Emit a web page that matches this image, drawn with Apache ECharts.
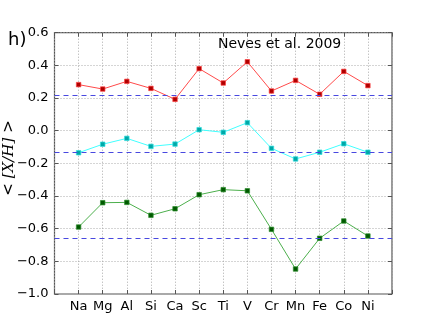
<!DOCTYPE html>
<html><head><meta charset="utf-8">
<script src="https://cdn.jsdelivr.net/npm/echarts@6/dist/echarts.min.js"></script>
<style>html,body{margin:0;padding:0;background:#fff}#c{width:436px;height:327px}</style>
</head><body><div id="c"></div>
<script>
const elements = ['Na','Mg','Al','Si','Ca','Sc','Ti','V','Cr','Mn','Fe','Co','Ni'];
const redVals   = [0.282,0.255,0.302,0.259,0.192,0.380,0.292,0.422,0.243,0.308,0.223,0.363,0.276];
const cyanVals  = [-0.135,-0.083,-0.047,-0.096,-0.082,0.006,-0.010,0.049,-0.108,-0.173,-0.132,-0.080,-0.132];
const greenVals = [-0.590,-0.441,-0.439,-0.518,-0.478,-0.392,-0.361,-0.368,-0.604,-0.847,-0.659,-0.553,-0.645];
const meanVals = [0.223, -0.132, -0.657];

const pts = v => v.map((y,i)=>[i,y]);
const FONT = 'DejaVu Sans';
function mk(name, vals, lineColor, markerColor, edgeColor){
  return {
    type:'line', name, data: pts(vals), symbol:'rect', symbolSize:4.5,
    lineStyle:{color:lineColor, width:1},
    itemStyle:{color:markerColor, borderColor:edgeColor, borderWidth:0.7},
    emphasis:{disabled:true}, animation:false, z:3
  };
}
const gridLine = {show:true, lineStyle:{type:[1,2], color:'#aaa', width:1}};
const tick = {show:true, inside:true, length:4, lineStyle:{color:'#555', width:1}};
const noLine = {show:false, onZero:false};
const chart = echarts.init(document.getElementById('c'));
chart.setOption({
  animation:false,
  grid:{left:54.5, right:44, top:32.7, bottom:33, outerBoundsMode:'none', containLabel:false,
    show:true, borderColor:'#555', borderWidth:1.2, backgroundColor:'transparent'},
  xAxis:[{type:'value', min:-1, max:13, interval:1,
    axisLine:noLine, axisTick:tick, splitLine:gridLine,
    axisLabel:{fontFamily:FONT, fontSize:13, color:'#000', margin:6,
      formatter: v => (v>=0 && v<elements.length) ? elements[v] : ''}},
   {type:'value', position:'top', min:-1, max:13, interval:1,
    axisLine:noLine, axisTick:tick, splitLine:{show:false}, axisLabel:{show:false}}],
  yAxis:[{type:'value', min:-1.0, max:0.6, interval:0.2,
    axisLine:noLine, axisTick:tick, splitLine:gridLine,
    axisLabel:{fontFamily:FONT, fontSize:13, color:'#000', margin:6,
      formatter: v => { const t = Math.abs(v).toFixed(1); return (v < -1e-9 ? '\u2212' : '') + t; }}
  },
  {type:'value', position:'right', min:-1.0, max:0.6, interval:0.2,
    axisLine:noLine, axisTick:tick, splitLine:{show:false}, axisLabel:{show:false}}],
  series:[
    mk('red', redVals, '#ff4a4a', '#b00000', '#ff4040'),
    mk('cyan', cyanVals, '#40ffff', '#00a8a8', '#30e0e0'),
    mk('green', greenVals, '#4caf4c', '#005a00', '#2f8f2f'),
    {type:'line', name:'means', data:[], symbol:'none', z:2,
     markLine:{symbol:'none', silent:true, animation:false, label:{show:false},
      lineStyle:{type:[5,4], color:'#4848e0', width:1.2, opacity:1},
      emphasis:{disabled:true},
      data: meanVals.map(m => ({yAxis:m}))}}
  ],
  graphic:[
    {type:'text', x:8, y:40, style:{text:'h)', fontFamily:FONT, fontSize:18, fill:'#000', verticalAlign:'middle'}},
    {type:'text', x:218, y:44, style:{text:'Neves et al. 2009', fontFamily:FONT, fontSize:14, fill:'#000', verticalAlign:'middle'}},
    {type:'text', x:9, y:158, rotation:Math.PI/2,
     style:{text:'{a|<}{b|[X/H]}{a|>}', align:'center', verticalAlign:'middle',
       rich:{a:{fontFamily:FONT, fontSize:15, fill:'#000', padding:[0,5,0,5]}, b:{fontFamily:'DejaVu Serif', fontStyle:'italic', fontSize:15, fill:'#000'}}}}
  ]
});
</script></body></html>
